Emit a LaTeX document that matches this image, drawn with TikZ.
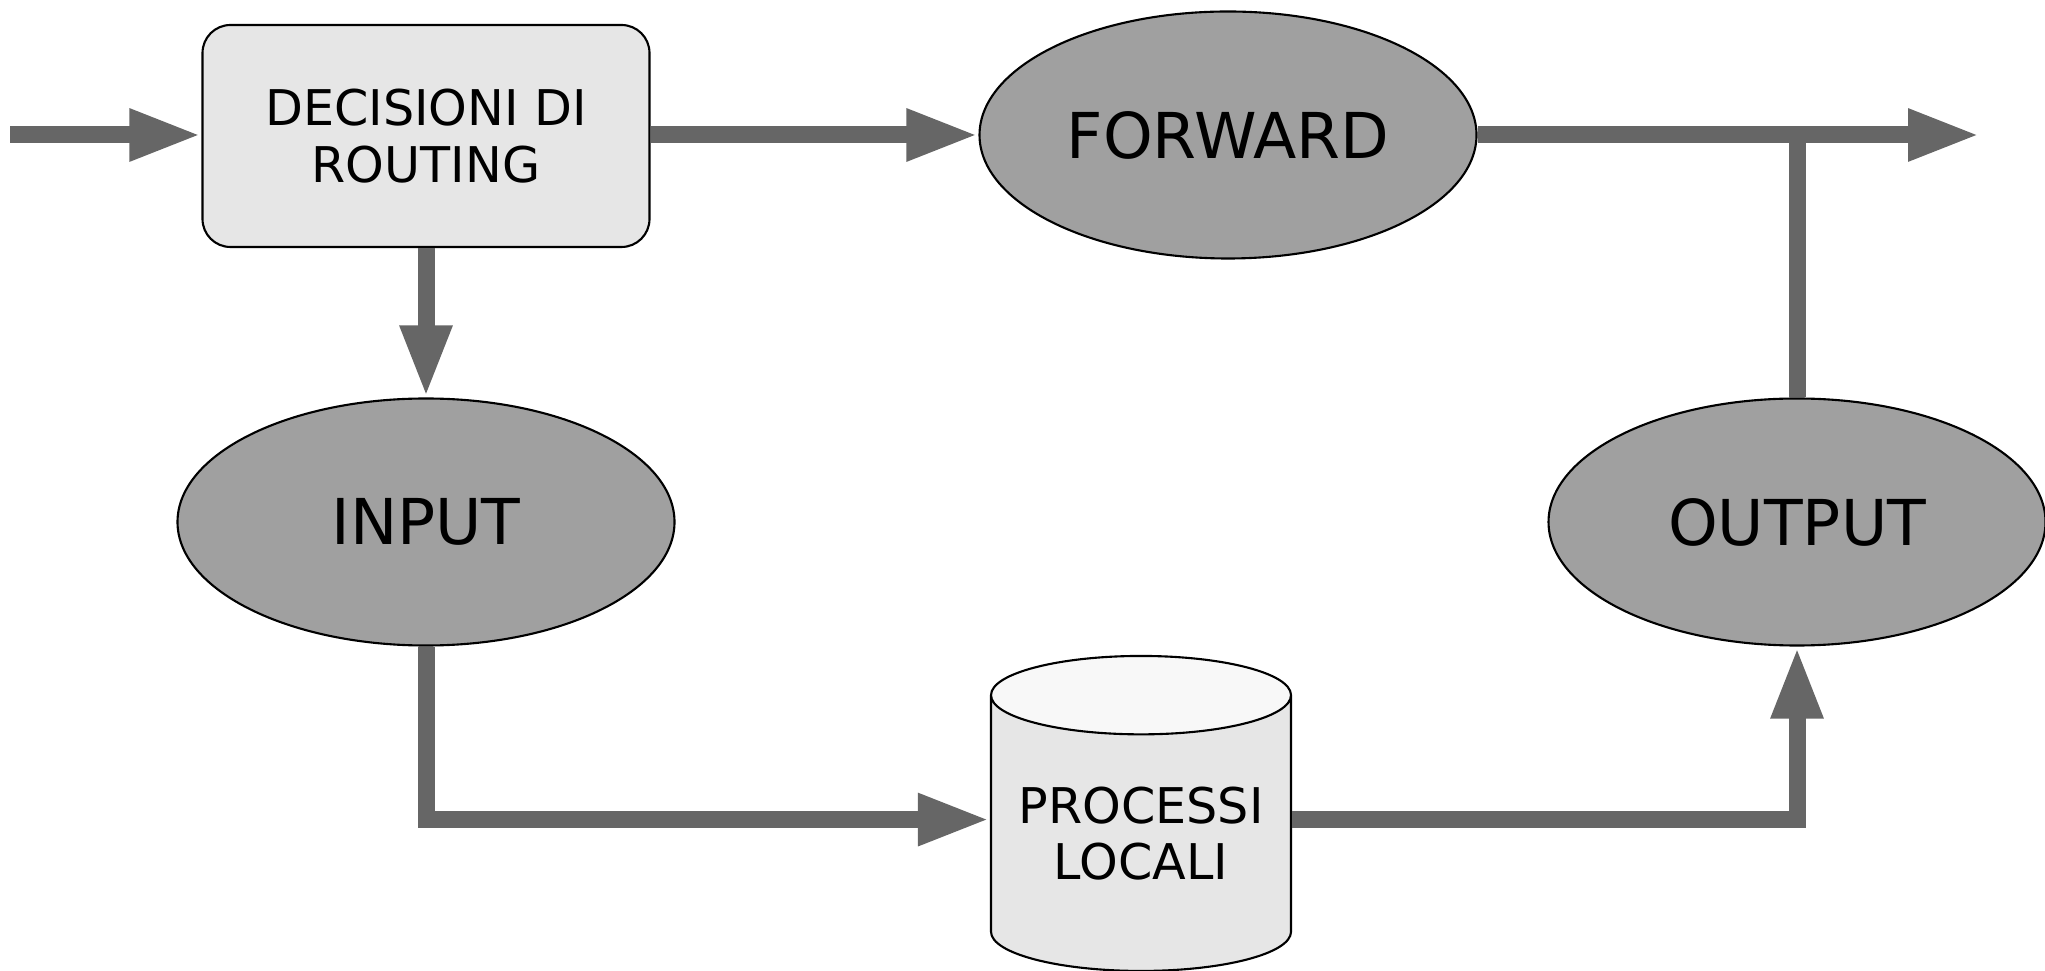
\documentclass[tikz,border=0pt]{standalone}
\usepackage{fontspec}
\setmainfont{DejaVu Sans}
\usepackage{tikz}
\usetikzlibrary{
    positioning,
    arrows.meta,
    shapes.geometric,
}
\definecolor{arrowgray}{HTML}{666666}
\definecolor{ovalgray}{HTML}{A0A0A0}
\definecolor{boxgray}{HTML}{E6E6E6}
\definecolor{capgray}{HTML}{F8F8F8}
\tikzset{
    % Text styles
    small text/.style={font=\fontsize{14}{16}\selectfont, align=center},
    big text/.style={font=\fontsize{18}{20}\selectfont},
}

\begin{document}
\begin{tikzpicture}[
    box/.style={rectangle, draw, line width=0.6pt, rounded corners=0.28cm, fill=boxgray,
                minimum width=4.47cm, minimum height=2.22cm, small text},
    oval/.style={ellipse, draw, line width=0.6pt, fill=ovalgray, inner sep=0pt,
                 minimum width=4.97cm, minimum height=2.47cm, big text},
    store/.style={cylinder, shape border rotate=90, draw, line width=0.6pt, aspect=0.32,
                  cylinder uses custom fill, cylinder body fill=boxgray, cylinder end fill=capgray,
                  minimum width=3cm, minimum height=3.15cm, inner sep=0pt, small text},
    arrow/.style={-{Triangle[length=0.72cm, width=0.48cm]}, line width=0.17cm, draw=arrowgray},
    link/.style={line width=0.17cm, draw=arrowgray},
]
    \useasboundingbox (0,0) rectangle (20.45,-9.71);

    % Routing
    \node[box] (route) at (4.26, -1.36) {DECISIONI DI\\ROUTING};

    % Ovals
    \node[oval] (fwd) at (12.28, -1.35) {FORWARD};
    \node[oval] (input) at (4.26, -5.22) {INPUT};
    \node[oval] (output) at (17.97, -5.22) {OUTPUT};

    % Local processes
    \node[store, anchor=south] (procs) at (11.41, -9.72) {PROCESSI\\LOCALI};
    \coordinate (procs in) at ([yshift=0.14cm]procs.west);
    \coordinate (procs out) at ([yshift=0.14cm]procs.east);

    % Free ends
    \coordinate (in) at (0.1, -1.35);
    \coordinate (out) at (19.8, -1.35);

    % Arrows
    \draw[arrow] (in) -- (route.west |- in);
    \draw[arrow] (route.east |- fwd.west) -- (fwd.west);
    \draw[arrow] (fwd.east) -- (out);
    \draw[link] (output.north) -- (output.north |- out);
    \draw[arrow] (route.south) -- (input.north);
    \draw[arrow] (input.south) |- (procs in);
    \draw[arrow] (procs out) -| (output.south);
\end{tikzpicture}
\end{document}
